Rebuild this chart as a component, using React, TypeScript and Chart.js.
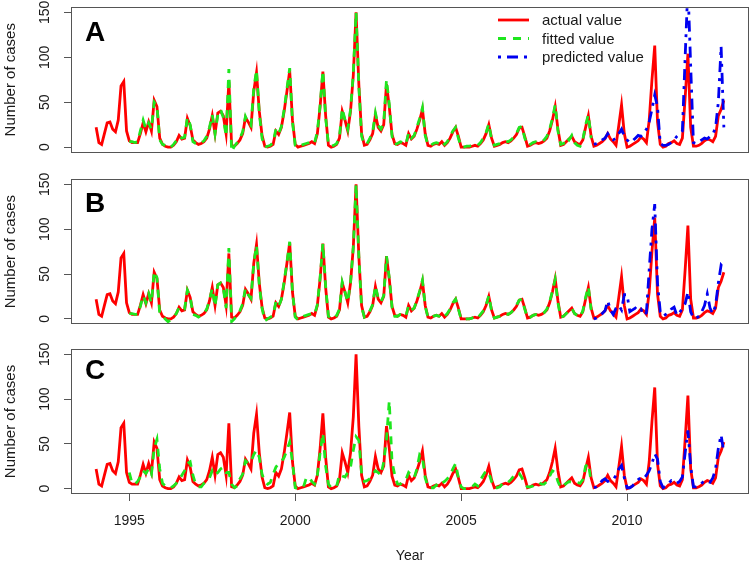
import React, { useEffect, useRef } from 'react';
import { Chart, registerables } from 'chart.js';

Chart.register(...registerables);

// ---------------- data ----------------
const START_YEAR = 1994; // monthly series, Jan 1994 .. Dec 2012
const FIT_START = 1995; // fitted values Jan 1995 .. Dec 2008
const PRED_START = 2009; // predicted values Jan 2009 .. Dec 2012

const actual = [
  22, 5, 3, 15, 27, 28, 20, 17, 30, 68, 73, 18,
  7, 5, 5, 5, 15, 27, 17, 28, 18, 52, 45, 10,
  3, 1, 0, 0, 2, 6, 13, 9, 10, 32, 24, 8,
  5, 3, 4, 6, 10, 20, 35, 15, 38, 40, 35, 15,
  73, 2, 1, 4, 8, 15, 33, 28, 22, 62, 83, 40,
  13, 1, 0, 1, 3, 18, 14, 22, 40, 62, 85, 30,
  3, 0, 1, 2, 3, 4, 6, 4, 15, 45, 84, 35,
  2, 0, 1, 3, 10, 40, 30, 18, 40, 80, 150, 70,
  15, 2, 3, 8, 15, 36, 22, 18, 25, 70, 45, 14,
  4, 3, 5, 4, 2, 15, 9, 12, 20, 30, 42, 15,
  2, 1, 3, 4, 3, 6, 2, 5, 10, 17, 22, 12,
  0, 0, 0, 0, 1, 2, 1, 4, 8, 15, 25, 10,
  1, 2, 3, 5, 6, 5, 7, 10, 14, 21, 22, 12,
  1, 2, 4, 5, 4, 5, 7, 10, 18, 30, 45, 20,
  2, 3, 6, 9, 12, 6, 4, 3, 8, 22, 35, 12,
  1, 2, 4, 6, 9, 15, 9, 6, 2, 24, 47, 15,
  0, 1, 3, 5, 7, 11, 9, 5, 30, 75, 113, 28,
  3, 0, 1, 4, 5, 7, 4, 3, 10, 55, 104, 22,
  1, 1, 2, 4, 7, 9, 8, 6, 12, 35, 42, 52,
];

const fittedA = [
  6, 6, 5, 6, 18, 30, 20, 27, 20, 50, 46, 8,
  3, 2, -1, 0, 3, 7, 12, 10, 11, 33, 25, 6,
  4, 3, 5, 7, 12, 22, 36, 15, 36, 42, 33, 12,
  87, -5, 1, 5, 10, 17, 34, 27, 24, 65, 86, 38,
  10, 0, 1, 2, 5, 20, 15, 23, 42, 65, 88, 28,
  2, 0, 2, 3, 4, 5, 7, 5, 17, 47, 85, 33,
  3, 1, 2, 4, 12, 43, 30, 20, 42, 82, 150, 68,
  12, 3, 4, 10, 17, 38, 24, 20, 27, 75, 48, 12,
  3, 4, 6, 5, 3, 16, 10, 13, 22, 32, 44, 13,
  2, 2, 4, 5, 4, 7, 3, 6, 12, 18, 22, 10,
  0, 0, 1, 1, 2, 3, 2, 5, 10, 16, 26, 8,
  2, 3, 4, 6, 7, 6, 8, 11, 15, 22, 23, 10,
  2, 3, 5, 6, 5, 6, 8, 12, 20, 32, 47, 18,
  3, 4, 11, 8, 13, 5, 2, 1, 8, 25, 36, 10,
];

const fittedB = [
  6, 6, 5, 5, 14, 26, 18, 28, 18, 53, 46, 6,
  3, 0, -3, -1, 2, 6, 13, 10, 11, 32, 25, 5,
  4, 2, 4, 6, 11, 21, 34, 14, 38, 40, 34, 12,
  79, -3, 0, 5, 9, 17, 34, 27, 23, 62, 82, 38,
  12, -2, 0, 2, 4, 19, 14, 22, 42, 63, 86, 30,
  2, -1, 1, 3, 4, 5, 6, 5, 16, 46, 84, 36,
  3, 0, 1, 4, 11, 41, 30, 19, 41, 80, 150, 70,
  13, 2, 4, 9, 16, 37, 23, 19, 26, 70, 46, 13,
  3, 3, 5, 5, 3, 15, 10, 12, 21, 31, 43, 14,
  2, 1, 3, 4, 3, 6, 3, 6, 11, 18, 22, 11,
  0, -1, 0, 0, 1, 3, 1, 5, 9, 15, 26, 9,
  1, 2, 3, 5, 6, 5, 7, 10, 15, 21, 22, 11,
  1, 2, 4, 5, 4, 5, 7, 11, 19, 31, 44, 18,
  2, 3, 6, 9, 12, 6, 4, 2, 9, 24, 36, 10,
];

const fittedC = [
  18, 6, 5, 8, 13, 20, 17, 22, 16, 45, 55, 22,
  6, 3, 1, 1, 3, 6, 10, 15, 20, 28, 30, 15,
  5, 2, 2, 6, 8, 12, 20, 15, 18, 22, 24, 18,
  18, 5, 1, 3, 11, 16, 31, 28, 30, 38, 43, 35,
  16, 8, 5, 7, 16, 24, 28, 30, 35, 43, 52, 30,
  1, 0, 1, 2, 12, 13, 8, 5, 15, 40, 62, 25,
  5, 1, 1, 3, 16, 14, 13, 18, 24, 43, 58, 54,
  17, 8, 9, 11, 16, 20, 18, 15, 30, 55, 98, 30,
  15, 5, 5, 8, 10, 18, 15, 12, 22, 38, 35, 12,
  2, 1, 1, 4, 2, 6, 8, 11, 15, 22, 28, 12,
  2, 0, 0, 1, 2, 5, 3, 10, 15, 20, 18, 8,
  1, 1, 2, 6, 5, 7, 10, 14, 18, 17, 12, 5,
  2, 2, 3, 5, 7, 5, 5, 8, 14, 20, 18, 8,
  1, 3, 6, 8, 7, 6, 7, 6, 10, 25, 28, 8,
];

const predictedA = [
  3, 4, 6, 8, 10, 15, 10, 8, 10, 15, 20, 12,
  8, 5, 7, 10, 13, 12, 15, 20, 28, 42, 58, 45,
  4, 2, 2, 3, 5, 8, 12, 15, 18, 100, 180, 90,
  5, 4, 6, 8, 10, 9, 12, 14, 22, 50, 112, 22,
];

const predictedB = [
  0, 1, 3, 6, 9, 20, 10, 5, 12, 15, 10, 27,
  27, 8, 10, 12, 9, 11, 4, 7, 55, 100, 128, 40,
  8, 3, 5, 7, 11, 13, 4, 7, 12, 17, 30, 8,
  1, 1, 3, 8, 15, 28, 12, 6, 15, 40, 60, 56,
];

const predictedC = [
  1, 2, 5, 9, 11, 8, 9, 10, 15, 22, 26, 12,
  1, 1, 3, 7, 10, 12, 11, 15, 20, 28, 39, 33,
  8, 1, 3, 6, 9, 8, 6, 8, 13, 40, 65, 25,
  2, 2, 3, 6, 9, 8, 7, 12, 22, 45, 60, 40,
];

const xTicks = [1995, 2000, 2005, 2010];
const yTicks = [0, 50, 100, 150];
const legendLabels = ['actual value', 'fitted value', 'predicted value'];

// ---------------- style ----------------
const FONT = "'Liberation Sans', Arial, Helvetica, sans-serif";
const RED = '#ff0000';
const GREEN = '#1ee61e';
const BLUE = '#0000f0';
const TEXT = '#1a1a1a';
const AXIS = '#555555';
const LW = 2.8;
const GREEN_DASH = [8, 7];
const BLUE_DASH = [3, 6, 11, 6];
const X_MIN = 1993.243;
const X_MAX = 2013.674;
const Y_MIN = -6;
const Y_MAX = 156;

function toPoints(values: number[], startYear: number) {
  return values.map((v, i) => ({ x: startYear + i / 12, y: v }));
}

const framePlugin = {
  id: 'frameBox',
  afterDraw(chart: any) {
    const { ctx, chartArea: a } = chart;
    ctx.save();
    ctx.strokeStyle = AXIS;
    ctx.lineWidth = 1;
    const l = Math.round(a.left) + 0.5;
    const t = Math.round(a.top) + 0.5;
    const r = Math.round(a.right) - 0.5;
    const b = Math.round(a.bottom) - 0.5;
    ctx.strokeRect(l, t, r - l, b - t);
    ctx.restore();
  },
};

const decorPlugin = {
  id: 'panelDecor',
  afterDraw(chart: any, _args: any, opts: any) {
    const { ctx } = chart;
    ctx.save();
    if (opts.letter) {
      ctx.fillStyle = '#000';
      ctx.font = `bold 28px ${FONT}`;
      ctx.textAlign = 'left';
      ctx.textBaseline = 'middle';
      ctx.fillText(opts.letter, 85, opts.letterY);
    }
    if (opts.legend) {
      const styles = [
        { color: RED, dash: [] as number[] },
        { color: GREEN, dash: GREEN_DASH },
        { color: BLUE, dash: BLUE_DASH },
      ];
      const rows = [20, 38.5, 57];
      legendLabels.forEach((label, i) => {
        ctx.strokeStyle = styles[i].color;
        ctx.lineWidth = LW;
        ctx.setLineDash(styles[i].dash);
        ctx.beginPath();
        ctx.moveTo(498, rows[i]);
        ctx.lineTo(529, rows[i]);
        ctx.stroke();
        ctx.setLineDash([]);
        ctx.fillStyle = TEXT;
        ctx.font = `15px ${FONT}`;
        ctx.textAlign = 'left';
        ctx.textBaseline = 'middle';
        ctx.fillText(label, 542, rows[i] + 1);
      });
    }
    ctx.restore();
  },
};

type PanelProps = {
  letter: string;
  letterY: number;
  fitted: number[];
  predicted: number[];
  top: number;
  height: number;
  padTop: number;
  padBottom: number;
  showX: boolean;
  legend: boolean;
};

function Panel(p: PanelProps) {
  const ref = useRef<HTMLCanvasElement | null>(null);
  useEffect(() => {
    if (!ref.current) return;
    const tickFont = { family: FONT, size: 14 };
    const chart = new Chart(ref.current, {
      type: 'line',
      data: {
        datasets: [
          {
            label: 'predicted value',
            data: toPoints(p.predicted, PRED_START),
            borderColor: BLUE,
            borderWidth: LW,
            borderDash: BLUE_DASH,
            pointRadius: 0,
            tension: 0,
            order: 1,
          },
          {
            label: 'fitted value',
            data: toPoints(p.fitted, FIT_START),
            borderColor: GREEN,
            borderWidth: LW,
            borderDash: GREEN_DASH,
            pointRadius: 0,
            tension: 0,
            order: 2,
          },
          {
            label: 'actual value',
            data: toPoints(actual, START_YEAR),
            borderColor: RED,
            borderWidth: LW,
            pointRadius: 0,
            tension: 0,
            order: 3,
          },
        ],
      },
      options: {
        responsive: false,
        animation: false,
        devicePixelRatio: 1,
        layout: { padding: { top: p.padTop, bottom: p.showX ? 0 : p.padBottom, left: 2, right: 1 } },
        plugins: {
          legend: { display: false },
          tooltip: { enabled: false },
          panelDecor: { letter: p.letter, letterY: p.letterY, legend: p.legend },
        } as any,
        scales: {
          x: {
            type: 'linear',
            min: X_MIN,
            max: X_MAX,
            display: p.showX,
            afterBuildTicks: (s: any) => {
              s.ticks = xTicks.map((v) => ({ value: v }));
            },
            afterFit: (s: any) => {
              s.height = p.showX ? 72 : 0;
              s.paddingLeft = 0;
              s.paddingRight = 0;
            },
            grid: { drawOnChartArea: false, drawTicks: true, tickLength: 7, color: AXIS },
            border: { display: false },
            ticks: {
              autoSkip: false,
              minRotation: 0,
              maxRotation: 0,
              padding: 12,
              font: tickFont,
              color: TEXT,
              callback: (v: any) => String(v),
            },
            title: {
              display: true,
              text: 'Year',
              font: { family: FONT, size: 14 },
              color: TEXT,
              padding: { top: 0, bottom: 1 },
            },
          },
          y: {
            type: 'linear',
            min: Y_MIN,
            max: Y_MAX,
            afterBuildTicks: (s: any) => {
              s.ticks = yTicks.map((v) => ({ value: v }));
            },
            afterFit: (s: any) => {
              s.width = 69;
              s.paddingTop = 0;
              s.paddingBottom = 0;
            },
            grid: { drawOnChartArea: false, drawTicks: true, tickLength: 7, color: AXIS },
            border: { display: false },
            ticks: {
              minRotation: 90,
              maxRotation: 90,
              crossAlign: 'center',
              padding: 7,
              font: tickFont,
              color: TEXT,
              callback: (v: any) => String(v),
            },
            title: {
              display: true,
              text: 'Number of cases',
              font: { family: FONT, size: 15 },
              color: TEXT,
              padding: { top: 0, bottom: 0 },
            },
          },
        },
      },
      plugins: [framePlugin, decorPlugin],
    } as any);
    return () => chart.destroy();
  }, []);
  return (
    <canvas
      ref={ref}
      width={750}
      height={p.height}
      style={{ position: 'absolute', left: 0, top: p.top, width: 750, height: p.height }}
    />
  );
}

export default function App() {
  return (
    <div style={{ position: 'absolute', left: 0, top: 0, width: 750, height: 566, background: '#fff' }}>
      <Panel letter="A" letterY={33} fitted={fittedA} predicted={predictedA} top={0} height={170} padTop={7} padBottom={17.5} showX={false} legend={true} />
      <Panel letter="B" letterY={34} fitted={fittedB} predicted={predictedB} top={170} height={170} padTop={9} padBottom={15.7} showX={false} legend={false} />
      <Panel letter="C" letterY={31} fitted={fittedC} predicted={predictedC} top={340} height={226} padTop={9} padBottom={0} showX={true} legend={false} />
    </div>
  );
}
